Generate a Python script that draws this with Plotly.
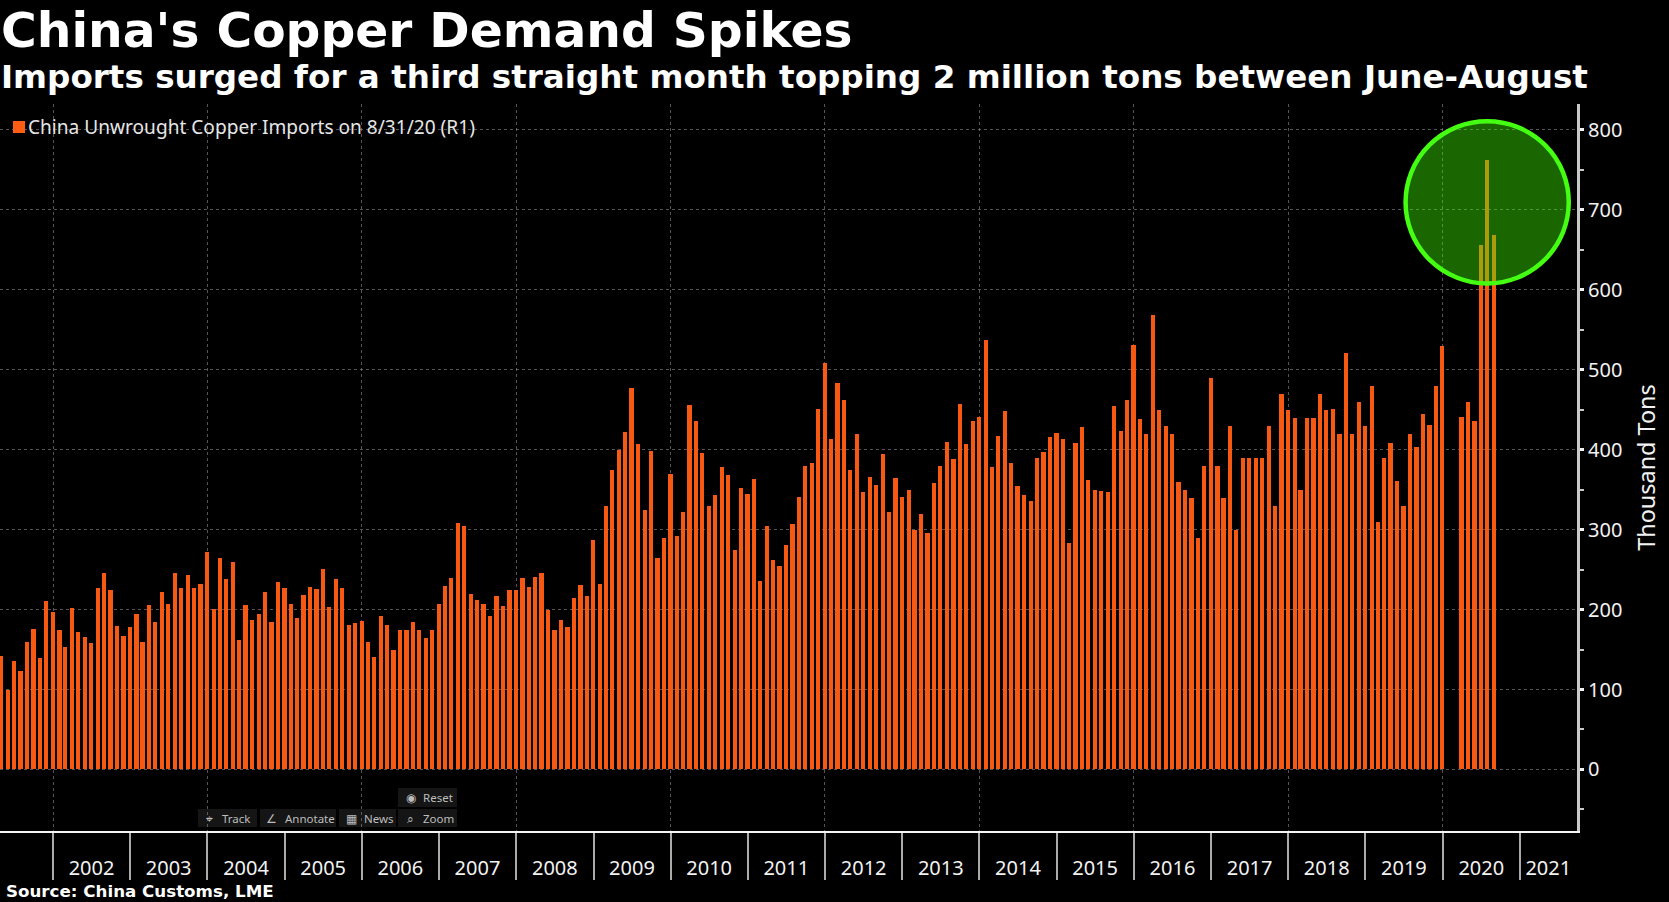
import pandas as pd
import plotly.graph_objects as go

W, H = 1669, 902
L, R, T, B = 0, 1577, 104, 831

imports_kt = [
    142, 100, 136, 123, 160, 176, 140, 211, 197,
    174, 153, 202, 172, 166, 158, 227, 246, 224, 180, 167, 178,
    195, 159, 206, 185, 222, 207, 246, 227, 243, 227, 232, 272,
    201, 265, 238, 259, 162, 206, 187, 194, 222, 185, 235, 227,
    207, 189, 218, 228, 226, 251, 203, 238, 227, 181, 183, 186,
    159, 141, 192, 181, 150, 174, 175, 185, 175, 165, 175, 207,
    229, 240, 308, 305, 220, 212, 207, 192, 217, 205, 224, 225,
    240, 228, 241, 246, 199, 174, 187, 178, 215, 231, 217, 287,
    232, 329, 375, 400, 422, 477, 407, 325, 399, 264, 290, 370,
    292, 322, 456, 436, 396, 329, 343, 379, 368, 274, 352, 345,
    363, 236, 305, 262, 255, 281, 307, 341, 380, 383, 451, 509,
    414, 484, 462, 375, 420, 347, 366, 356, 395, 322, 365, 341,
    350, 299, 320, 296, 358, 380, 410, 388, 457, 407, 436, 441,
    537, 379, 417, 449, 384, 354, 343, 336, 390, 397, 416, 421,
    414, 283, 408, 428, 362, 349, 348, 347, 455, 424, 462, 531,
    439, 420, 569, 450, 430, 420, 360, 350, 340, 290, 380, 490,
    380, 340, 430, 300, 390, 390, 390, 390, 430, 330, 470, 450,
    440, 350, 440, 440, 470, 450, 451, 420, 521, 420, 460, 430,
    480, 309, 390, 409, 361, 330, 420, 404, 445, 431, 480, 530,
    None, None, 441, 460, 436, 656, 762, 668,
]
months = pd.date_range("2001-04-30", periods=len(imports_kt), freq="ME")
year_labels = [str(y) for y in range(2002, 2022)]
year_label_pos = [f"{y}-07-02" for y in range(2002, 2021)] + ["2021-05-15"]
x_range = ["2001-04-25", "2021-09-28"]
y_range = [-77, 832.5]
y_ticks = list(range(0, 900, 100))

ORANGE = "#ff5c14"
GRID = "rgba(140,140,140,0.6)"
TICK_FONT = dict(family="Noto Sans", size=20, color="#f2f2f2")


def px(x):
    return (x - L) / (R - L)


def py(y):
    return (B - y) / (B - T)


fig = go.Figure()
fig.add_trace(go.Bar(
    x=months, y=imports_kt, width=20 * 86400000,
    marker=dict(color=ORANGE, line_width=0, opacity=0.97),
    name="China Unwrought Copper Imports on 8/31/20 (R1)", showlegend=False,
))
fig.add_trace(go.Scatter(
    x=year_label_pos, y=[None] * len(year_label_pos), xaxis="x2",
    showlegend=False, hoverinfo="skip",
))

fig.update_layout(
    width=W, height=H, autosize=False, showlegend=False,
    paper_bgcolor="black", plot_bgcolor="black",
    margin=dict(l=L, r=W - R, t=T, b=H - B, pad=0),
    bargap=0,
    xaxis=dict(
        type="date", range=x_range, tick0="2002-01-01", dtick="M24",
        showgrid=True, gridcolor=GRID, griddash="dot", gridwidth=1,
        ticks="outside", ticklen=47, tickcolor="#aaaaaa", tickwidth=1.5,
        showticklabels=False, zeroline=False,
        showline=True, linecolor="#f5f5f5", linewidth=2,
        minor=dict(tick0="2002-01-01", dtick="M12", ticks="outside", ticklen=47,
                   tickcolor="#aaaaaa", tickwidth=1.5, showgrid=False),
    ),
    xaxis2=dict(
        type="date", range=x_range, overlaying="x", anchor="y", side="bottom",
        tickmode="array", tickvals=year_label_pos, ticktext=year_labels,
        ticks="outside", ticklen=19, tickcolor="rgba(0,0,0,0)", tickangle=0,
        showgrid=False, showline=False, zeroline=False, tickfont=TICK_FONT,
    ),
    yaxis=dict(
        side="right", range=y_range, tickmode="array", tickvals=y_ticks,
        ticks="outside", ticklen=4, tickwidth=3, tickcolor="#f2f2f2",
        tickfont=TICK_FONT, showgrid=True, gridcolor=GRID, griddash="dot",
        gridwidth=1, zeroline=False, showline=True, linecolor="#c8c8c8",
        linewidth=3,
        minor=dict(dtick=50, tick0=0, ticks="outside", ticklen=4,
                   tickcolor="#c8c8c8", tickwidth=1.5, showgrid=False),
        title=dict(text="Thousand Tons", standoff=18,
                   font=dict(family="Noto Sans", size=23.4, color="#f2f2f2")),
    ),
    font=dict(family="Noto Sans", color="white"),
)

# highlight circle around the June-August imports
fig.add_shape(type="circle", xref="x", yref="y", layer="above",
              x0="2019-07-10", x1="2021-08-20", y0=608, y1=811,
              line=dict(color="#44ff11", width=4.5),
              fillcolor="rgba(64,255,0,0.4)")

# legend swatch
fig.add_shape(type="rect", xref="paper", yref="paper",
              x0=px(13), x1=px(25), y0=py(133), y1=py(121),
              line_width=0, fillcolor=ORANGE)

# toolbar boxes
for x0, x1, y0, y1 in [(198, 257, 809, 827), (260, 336, 809, 827), (339, 396, 809, 827),
                       (398, 457, 809, 827), (398, 457, 788, 807)]:
    fig.add_shape(type="rect", xref="paper", yref="paper", layer="below",
                  x0=px(x0), x1=px(x1), y0=py(y1), y1=py(y0),
                  line_width=0, fillcolor="#151515")


def note(text, x, y, size, color="white", bold=False, family="Noto Sans", anchor="left"):
    fig.add_annotation(
        text=f"<b>{text}</b>" if bold else text, xref="paper", yref="paper",
        x=px(x), y=py(y), xanchor=anchor, yanchor="middle", showarrow=False,
        font=dict(family=family, size=size, color=color), borderpad=0, borderwidth=0,
    )


note("China's Copper Demand Spikes", 1, 30, 48.7, bold=True, family="DejaVu Sans")
note("Imports surged for a third straight month topping 2 million tons between June-August",
     1, 76.5, 32.6, bold=True, family="DejaVu Sans")
note("China Unwrought Copper Imports on 8/31/20 (R1)", 28, 127, 19.1, color="#e6e6e6")
note("Source: China Customs, LME", 6, 891, 16.7, bold=True, family="DejaVu Sans")
for label, x, y, in [("⌖", 209, 818), ("Track", 222, 818), ("∠", 271, 818), ("Annotate", 285, 818),
                     ("▦", 351, 818), ("News", 364, 818), ("⌕", 410, 818), ("Zoom", 423, 818),
                     ("◉", 411, 797), ("Reset", 423, 797)]:
    note(label, x, y, 11.5, color="#bdbdbd", anchor="center" if len(label) == 1 else "left")

fig.write_html(
    "out.html",
    config=dict(displayModeBar=False),
    post_script="document.body.style.margin='0';document.body.style.background='black';"
                "document.body.style.overflow='hidden';",
)
